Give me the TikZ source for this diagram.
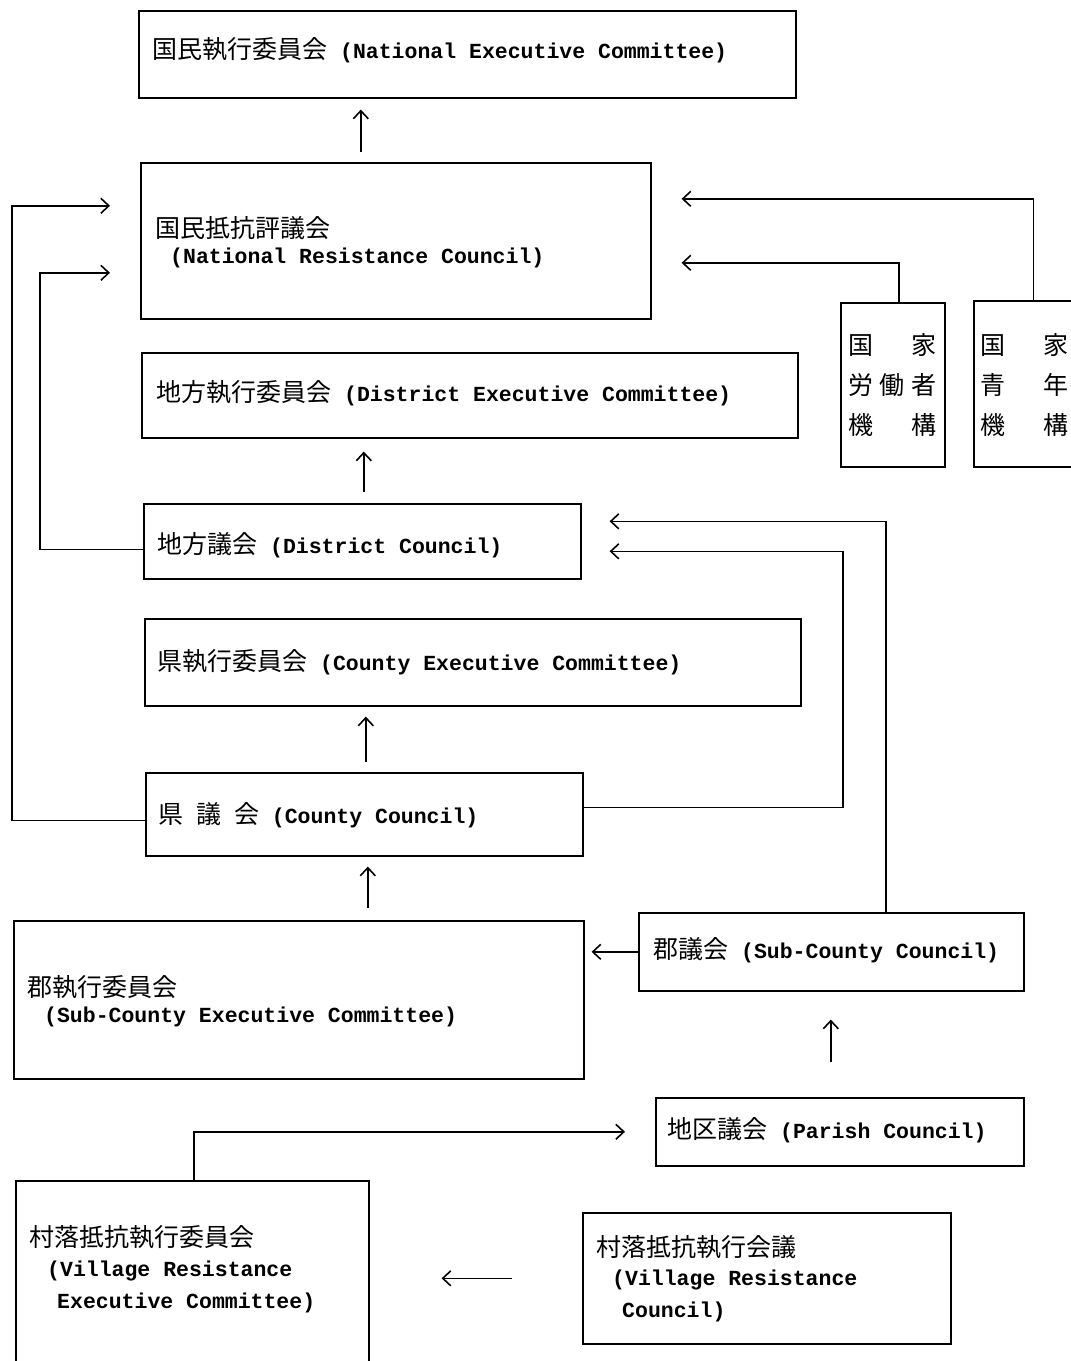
\documentclass[tikz,border=0pt]{standalone}
\usepackage{fontspec}
\setmainfont{Liberation Mono}
\newfontfamily\cjkfont{Noto Sans CJK JP}
\newcommand\jpn[1]{{\cjkfont\mdseries\fontsize{25pt}{30pt}\selectfont #1}}
\usetikzlibrary{arrows.meta}
\begin{document}
\begin{tikzpicture}[x=1pt,y=-1pt,
  box/.style={draw, line width=1.6pt, inner sep=0pt, anchor=north west},
  lbl/.style={anchor=west, inner sep=0pt, font=\fontsize{21.5pt}{26pt}\selectfont\bfseries},
  conn/.style={line width=1.6pt, -{Straight Barb[length=8pt,width=15pt,line width=1.6pt]}}]
\useasboundingbox (0,0) rectangle (1071,1361);
% boxes
\node[box, minimum width=657pt, minimum height=87pt] (nec) at (138,10) {};
\node[box, minimum width=510pt, minimum height=156pt] (nrc) at (140,162) {};
\node[box, minimum width=656pt, minimum height=85pt] (dec) at (141,352) {};
\node[box, minimum width=437pt, minimum height=75pt] (dc) at (143,503) {};
\node[box, minimum width=656pt, minimum height=87pt] (cec) at (144,618) {};
\node[box, minimum width=437pt, minimum height=83pt] (cc) at (145,772) {};
\node[box, minimum width=570pt, minimum height=158pt] (scec) at (13,920) {};
\node[box, minimum width=385pt, minimum height=78pt] (scc) at (638,912) {};
\node[box, minimum width=368pt, minimum height=68pt] (pc) at (655,1097) {};
\node[box, minimum width=353pt, minimum height=195pt] (vrec) at (15,1180) {};
\node[box, minimum width=368pt, minimum height=131pt] (vrc) at (582,1212) {};
\node[box, minimum width=104pt, minimum height=164pt] (wk) at (840,302) {};
\node[box, minimum width=115pt, minimum height=166pt] (yo) at (973,300) {};
% labels
\node[lbl] (necT) at (152,50) {\jpn{国民執行委員会} (National Executive Committee)};
\node[lbl] (nrcT1) at (155,228) {\jpn{国民抵抗評議会}};
\node[lbl] (nrcT2) at (170,258) {(National Resistance Council)};
\node[lbl] (decT) at (156,393) {\jpn{地方執行委員会} (District Executive Committee)};
\node[lbl] (dcT) at (157,545) {\jpn{地方議会} (District Council)};
\node[lbl] (cecT) at (157,662) {\jpn{県執行委員会} (County Executive Committee)};
\node[lbl] (ccT) at (158,815) {\jpn{県} \jpn{議} \jpn{会} (County Council)};
\node[lbl] (scecT1) at (27,987) {\jpn{郡執行委員会}};
\node[lbl] (scecT2) at (44,1017) {(Sub-County Executive Committee)};
\node[lbl] (sccT) at (653,950) {\jpn{郡議会} (Sub-County Council)};
\node[lbl] (pcT) at (667,1130) {\jpn{地区議会} (Parish Council)};
\node[lbl] (vrecT1) at (29,1237) {\jpn{村落抵抗執行委員会}};
\node[lbl] (vrecT2) at (47,1271) {(Village Resistance};
\node[lbl] (vrecT3) at (57,1303) {Executive Committee)};
\node[lbl] (vrcT1) at (596,1247) {\jpn{村落抵抗執行会議}};
\node[lbl] (vrcT2) at (612,1280) {(Village Resistance};
\node[lbl] (vrcT3) at (622,1312) {Council)};
\node[lbl] (wk1) at (848,345) {\makebox[88pt][s]{\jpn{国}\hfill\jpn{家}}};
\node[lbl] (wk2) at (848,385) {\makebox[88pt][s]{\jpn{労}\hfill\jpn{働}\hfill\jpn{者}}};
\node[lbl] (wk3) at (848,425) {\makebox[88pt][s]{\jpn{機}\hfill\jpn{構}}};
\node[lbl] (yo1) at (980,345) {\makebox[88pt][s]{\jpn{国}\hfill\jpn{家}}};
\node[lbl] (yo2) at (980,385) {\makebox[88pt][s]{\jpn{青}\hfill\jpn{年}}};
\node[lbl] (yo3) at (980,425) {\makebox[88pt][s]{\jpn{機}\hfill\jpn{構}}};
% bend coordinates
\coordinate (lA) at (12,0);
\coordinate (lB) at (40,0);
\coordinate (rB) at (843,0);
% vertical arrows
\draw[conn, shorten <=10pt, shorten >=11pt] ([xshift=-35pt]nrc.north) -- ([xshift=-35pt]nrc.north |- nec.south);
\draw[conn, shorten <=11pt, shorten >=13pt] ([xshift=1.5pt]dc.north) -- ([xshift=1.5pt]dc.north |- dec.south);
\draw[conn, shorten <=10pt, shorten >=10pt] ([xshift=1.5pt]cc.north) -- ([xshift=1.5pt]cc.north |- cec.south);
\draw[conn, shorten <=12pt, shorten >=10pt] ([xshift=69pt]scec.north) -- ([xshift=69pt]scec.north |- cc.south);
\draw[conn, shorten <=35pt, shorten >=28pt] ([xshift=-9pt]pc.north) -- ([xshift=-9pt]pc.north |- scc.south);
% horizontal arrows
\draw[conn, shorten >=7pt] (scc.west) -- (scc.west -| scec.east);
\draw[conn, shorten <=70pt, shorten >=72pt] (vrc.west) -- (vrc.west -| vrec.east);
% loops
\draw[conn] ([xshift=1.5pt]vrec.north) |- ([xshift=-30pt]pc.west);
\draw[conn] ([yshift=-6pt]cc.west) -- ([yshift=-6pt]cc.west -| lA) |- ([xshift=-30pt,yshift=35pt]nrc.west);
\draw[conn] ([yshift=-8pt]dc.west) -- ([yshift=-8pt]dc.west -| lB) |- ([xshift=-30pt,yshift=-32pt]nrc.west);
\draw[conn] ([xshift=54.5pt]scc.north) |- ([xshift=28pt,yshift=20pt]dc.east);
\draw[conn] ([yshift=7pt]cc.east) -- ([yshift=7pt]cc.east -| rB) |- ([xshift=28pt,yshift=-10pt]dc.east);
\draw[conn] ([xshift=6pt]wk.north) |- ([xshift=30pt,yshift=-22pt]nrc.east);
\draw[conn] ([xshift=2pt]yo.north) |- ([xshift=30pt,yshift=42pt]nrc.east);
\end{tikzpicture}
\end{document}
